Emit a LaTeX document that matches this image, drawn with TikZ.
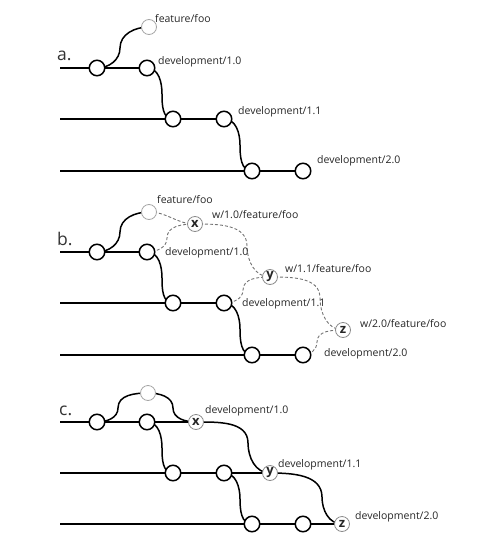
\documentclass[tikz,border=0pt]{standalone}
\usepackage{fontspec}
\setmainfont{Open Sans}
\pgfdeclarelayer{bg}
\pgfsetlayers{bg,main}
\begin{document}
\begin{tikzpicture}[x=1pt,y=-1pt,
  commit/.style={circle,draw=black,line width=1.5pt,fill=white,minimum size=15.5pt,inner sep=0pt},
  ghost/.style={circle,draw=black!35,line width=0.8pt,fill=white,minimum size=15pt,inner sep=0pt},
  merge/.style={circle,draw=black!45,line width=0.8pt,fill=white,minimum size=15pt,inner sep=0pt,
    font=\fontsize{13}{13}\selectfont\bfseries,text=black!85},
  lbl/.style={anchor=base west,inner sep=0pt,font=\fontsize{10.5}{12}\selectfont,text=black!85},
  sec/.style={anchor=base west,inner sep=0pt,font=\fontsize{17.5}{18}\selectfont,text=black!80},
  branch/.style={line width=1.5pt,black},
  flow/.style={line width=0.9pt,black!55,dash pattern=on 3pt off 2pt},
  curve/.style={out=0,in=180}]
\useasboundingbox (0,0) rectangle (500,554);

% ---------- a ----------
\node[sec] (la) at (57,60) {a.};
\coordinate (a0) at (60,68);
\coordinate (a1) at (60,119);
\coordinate (a2) at (60,171);
\node[commit] (A1) at (97,68) {};
\node[commit] (A2) at (147,68) {};
\node[commit] (A3) at (173,119) {};
\node[commit] (A4) at (224,119) {};
\node[commit] (A5) at (252,171) {};
\node[commit] (A6) at (303,171) {};
\node[ghost] (Af) at (149,27) {};
\node[lbl] (tAf) at (155,23) {feature/foo};
\node[lbl] (tA2) at (158,64) {development/1.0};
\node[lbl] (tA4) at (238,114) {development/1.1};
\node[lbl] (tA6) at (317,163) {development/2.0};
\begin{pgfonlayer}{bg}
\draw[branch] (a0) -- (A2.center);
\draw[branch] (a1) -- (A4.center);
\draw[branch] (a2) -- (A6.center);
\draw[branch] (A1.center) to[out=0,in=-90] (120,48) to[out=90,in=180] (Af.center);
\draw[branch] (A2.center) to[out=0,in=90] (162,94) to[out=-90,in=180] (A3.center);
\draw[branch] (A4.center) to[out=0,in=90] (240,145) to[out=-90,in=180] (A5.center);
\end{pgfonlayer}

% ---------- b ----------
\node[sec] (lb) at (57,245) {b.};
\coordinate (b0) at (60,252);
\coordinate (b1) at (60,303);
\coordinate (b2) at (60,355);
\node[commit] (B1) at (97,252) {};
\node[commit] (B2) at (147,252) {};
\node[commit] (B3) at (173,303) {};
\node[commit] (B4) at (224,303) {};
\node[commit] (B5) at (252,355) {};
\node[commit] (B6) at (303,355) {};
\node[ghost] (Bf) at (149,212) {};
\node[merge] (Bx) at (195,224) {x};
\node[merge] (By) at (270,277) {y};
\node[merge] (Bz) at (343,330) {z};
\node[lbl] (tBf) at (157,203) {feature/foo};
\node[lbl] (tBx) at (212,218) {w/1.0/feature/foo};
\node[lbl] (tB2) at (165,255) {development/1.0};
\node[lbl] (tBy) at (285,272) {w/1.1/feature/foo};
\node[lbl] (tB4) at (242,306) {development/1.1};
\node[lbl] (tBz) at (360,327) {w/2.0/feature/foo};
\node[lbl] (tB6) at (324,356) {development/2.0};
\begin{pgfonlayer}{bg}
\draw[branch] (b0) -- (B2.center);
\draw[branch] (b1) -- (B4.center);
\draw[branch] (b2) -- (B6.center);
\draw[branch] (B1.center) to[out=0,in=-90] (120,232) to[out=90,in=180] (Bf.center);
\draw[branch] (B2.center) to[out=0,in=90] (162,278) to[out=-90,in=180] (B3.center);
\draw[branch] (B4.center) to[out=0,in=90] (240,329) to[out=-90,in=180] (B5.center);
\draw[flow] (Bf.center) to[curve] (Bx.center);
\draw[flow] (B2.center) to[out=0,in=-90] (167,238) to[out=90,in=180] (Bx.center);
\draw[flow] (Bx.center) to[out=0,in=90] (247,246) to[out=-90,in=180] (By.center);
\draw[flow] (B4.center) to[out=0,in=-90] (243,290) to[out=90,in=180] (By.center);
\draw[flow] (By.center) to[out=0,in=90] (320,298) to[out=-90,in=180] (Bz.center);
\draw[flow] (B6.center) to[out=0,in=-90] (317,342) to[out=90,in=180] (Bz.center);
\end{pgfonlayer}

% ---------- c ----------
\node[sec] (lc) at (59,415) {c.};
\coordinate (c0) at (60,422);
\coordinate (c1) at (60,473);
\coordinate (c2) at (60,524);
\node[commit] (C1) at (97,422) {};
\node[commit] (C2) at (147,422) {};
\node[commit] (C3) at (173,473) {};
\node[commit] (C4) at (224,473) {};
\node[commit] (C5) at (252,524) {};
\node[commit] (C6) at (303,524) {};
\node[ghost] (Cf) at (148,393) {};
\node[merge] (Cx) at (196,422) {x};
\node[merge] (Cy) at (270,473) {y};
\node[merge] (Cz) at (342,524) {z};
\node[lbl] (tCx) at (205,413) {development/1.0};
\node[lbl] (tCy) at (278,467) {development/1.1};
\node[lbl] (tCz) at (355,519) {development/2.0};
\begin{pgfonlayer}{bg}
\draw[branch] (c0) -- (Cx.center);
\draw[branch] (c1) -- (Cy.center);
\draw[branch] (c2) -- (Cz.center);
\draw[branch] (C1.center) to[out=0,in=-90] (118,408) to[out=90,in=180] (Cf.center);
\draw[branch] (Cf.center) to[out=0,in=90] (173,408) to[out=-90,in=180] (Cx.center);
\draw[branch] (C2.center) to[out=0,in=90] (162,448) to[out=-90,in=180] (C3.center);
\draw[branch] (C4.center) to[out=0,in=90] (240,499) to[out=-90,in=180] (C5.center);
\draw[branch] (Cx.center) to[out=0,in=90] (248,443) to[out=-90,in=180] (Cy.center);
\draw[branch] (Cy.center) to[out=0,in=90] (322,497) to[out=-90,in=180] (Cz.center);
\end{pgfonlayer}
\end{tikzpicture}
\end{document}
